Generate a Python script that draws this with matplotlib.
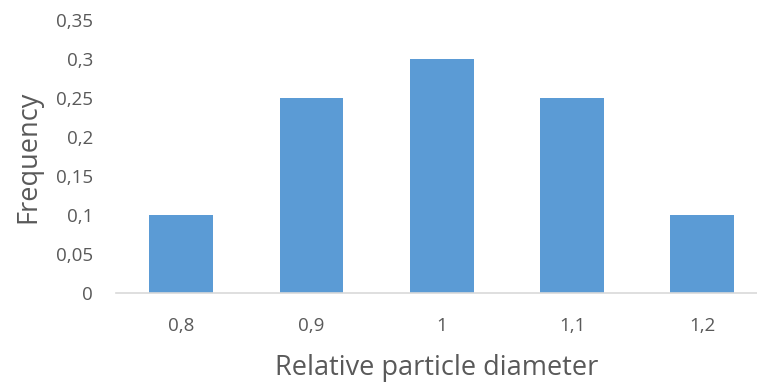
import matplotlib.pyplot as plt
from matplotlib.ticker import FuncFormatter

diameters = ['0,8', '0,9', '1', '1,1', '1,2']
frequency = [0.1, 0.25, 0.3, 0.25, 0.1]
y_ticks = [0, 0.05, 0.1, 0.15, 0.2, 0.25, 0.3, 0.35]

plt.rcParams['font.family'] = ['Open Sans', 'DejaVu Sans']
text_color = '#595959'

fig = plt.figure(figsize=(7.57, 3.83), dpi=100)
# axes box in figure fractions (x from 116px to 757px, y from 20px to 293px)
ax = fig.add_axes([116 / 757, 1 - 293 / 383, 641 / 757, 273 / 383])

x = range(len(diameters))
ax.bar(x, frequency, width=0.49, color='#5B9BD5', zorder=2)

ax.set_xlim(-0.5, -0.5 + 641 / 130.3)
ax.set_ylim(0, 0.35)
ax.set_yticks(y_ticks)
ax.yaxis.set_major_formatter(FuncFormatter(lambda v, p: f'{v:g}'.replace('.', ',')))
ax.set_xticks(list(x))
ax.set_xticklabels(diameters)

for side in ['top', 'right', 'left']:
    ax.spines[side].set_visible(False)
ax.spines['bottom'].set_color('#D9D9D9')
ax.spines['bottom'].set_linewidth(1.2)

ax.tick_params(axis='both', length=0, labelsize=13.5, colors=text_color)
ax.tick_params(axis='y', pad=16.5)
ax.tick_params(axis='x', pad=17)

ax.set_xlabel('Relative particle diameter', fontsize=19.5, color=text_color, labelpad=14)
ax.set_ylabel('Frequency', fontsize=19.5, color=text_color, labelpad=10)

fig.savefig('out.png', dpi=100)
